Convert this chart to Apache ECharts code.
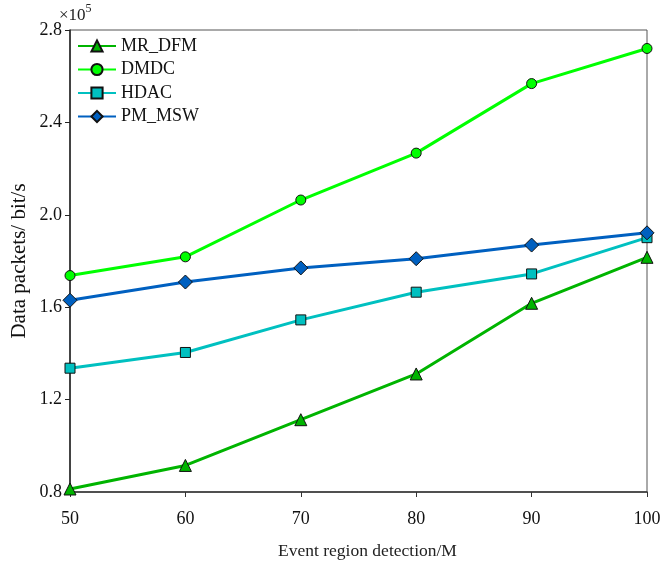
<!DOCTYPE html>
<html><head><meta charset="utf-8">
<script src="https://cdn.jsdelivr.net/npm/echarts@6/dist/echarts.min.js"></script>
<style>html,body{margin:0;padding:0;background:#fff}#c{width:667px;height:564px}</style>
</head><body><div id="c"></div>
<script>
const xValues = [50, 60, 70, 80, 90, 100];
const mrDfm = [0.813, 0.915, 1.113, 1.311, 1.617, 1.816];
const dmdc = [1.737, 1.818, 2.064, 2.267, 2.568, 2.720];
const hdac = [1.336, 1.404, 1.545, 1.665, 1.744, 1.901];
const pmMsw = [1.630, 1.709, 1.770, 1.810, 1.869, 1.922];
const seriesNames = ['MR_DFM', 'DMDC', 'HDAC', 'PM_MSW'];
const yTicks = [0.8, 1.2, 1.6, 2.0, 2.4, 2.8];

const font = '"Liberation Serif", "Times New Roman", serif';
const pairs = a => xValues.map((x, i) => [x, a[i]]);
function mk(name, data, color, symbol, size) {
  return {
    name, type: 'line', data: pairs(data), symbol, symbolSize: size,
    lineStyle: { color, width: 3 },
    itemStyle: { color, borderColor: '#111', borderWidth: 1 },
    emphasis: { disabled: true }, z: 3
  };
}
const chart = echarts.init(document.getElementById('c'), null, { renderer: 'canvas' });
chart.setOption({
  animation: false,
  backgroundColor: '#fff',
  grid: { left: 70, right: 20, top: 30, bottom: 72, show: true, borderColor: '#555', borderWidth: 1,
    containLabel: false, outerBoundsMode: 'none' },
  legend: {
    left: 72, top: 32, orient: 'vertical', itemWidth: 38, itemHeight: 14, itemGap: 5.5,
    textStyle: { fontFamily: font, fontSize: 18, color: '#111' },
    data: seriesNames
  },
  xAxis: {
    type: 'value', min: 50, max: 100, interval: 10,
    name: 'Event region detection/M', nameLocation: 'middle', nameGap: 50, nameMoveOverlap: false,
    nameTextStyle: { fontFamily: font, fontSize: 17.5, color: '#222', padding: [0, 0, 0, 18] },
    axisLine: { lineStyle: { color: '#333', width: 1.5 } },
    axisTick: { show: true, inside: false, length: 5, lineStyle: { color: '#333' } },
    axisLabel: { fontFamily: font, fontSize: 18, color: '#111', margin: 18 },
    splitLine: { show: false }
  },
  yAxis: {
    type: 'value', min: 0.8, max: 2.8, interval: 0.4,
    name: 'Data packets/ bit/s', nameLocation: 'middle', nameGap: 40, nameRotate: 90, nameMoveOverlap: false,
    nameTextStyle: { fontFamily: font, fontSize: 21, color: '#111' },
    axisLine: { show: true, lineStyle: { color: '#222', width: 1.5 } },
    axisTick: { show: true, inside: false, length: 5, lineStyle: { color: '#222' } },
    axisLabel: { fontFamily: font, fontSize: 18, color: '#111', margin: 8,
      formatter: v => { const t = yTicks.find(k => Math.abs(k - v) < 1e-6); return (t !== undefined ? t : v).toFixed(1); } },
    splitLine: { show: false }
  },
  graphic: [{
    type: 'text', left: 59, top: 3,
    style: {
      text: '{a|×10}{b|5}',
      rich: {
        a: { fontFamily: font, fontSize: 17, fill: '#222', verticalAlign: 'bottom' },
        b: { fontFamily: font, fontSize: 12, fill: '#222', verticalAlign: 'top', padding: [0, 0, 9, 0] }
      }
    }
  }],
  series: [
    mk('MR_DFM', mrDfm, '#00b400', 'triangle', 12),
    mk('DMDC', dmdc, '#00ff00', 'circle', 10),
    mk('HDAC', hdac, '#00c0c0', 'rect', 10),
    mk('PM_MSW', pmMsw, '#0060c0', 'diamond', 14)
  ]
});
</script></body></html>
